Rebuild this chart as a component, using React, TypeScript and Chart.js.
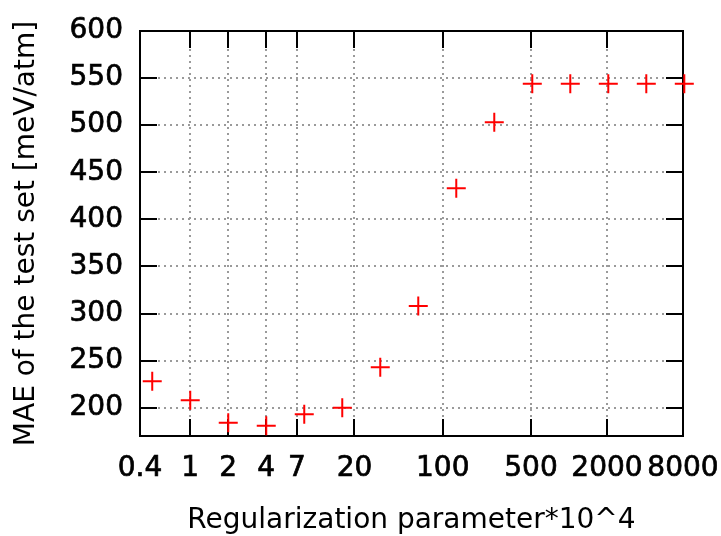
import React, { useEffect, useRef } from "react";
import { Chart, registerables } from "chart.js";

Chart.register(...registerables);

const regParams = [0.5, 1, 2, 4, 8, 16, 32, 64, 128, 256, 512, 1024, 2048, 4096, 8192];
const maeValues = [228, 208, 184, 181, 193, 200, 243, 308, 433, 503, 544, 544, 544, 544, 544];
const xTickValues = [0.4, 1, 2, 4, 7, 20, 100, 500, 2000, 8000];
const yTickValues = [200, 250, 300, 350, 400, 450, 500, 550, 600];

const xTitle = "Regularization parameter*10^4";
const yTitle = "MAE of the test set [meV/atm]";

const FONT = "'DejaVu Sans', Verdana, sans-serif";

const frameTicks = {
  id: "frameTicks",
  beforeDatasetsDraw(chart: any) {
    const { ctx, chartArea } = chart;
    const { left, right, top, bottom } = chartArea;
    const xs = chart.scales.x;
    const ys = chart.scales.y;
    const len = 17;
    ctx.save();
    ctx.strokeStyle = "#000";
    ctx.lineWidth = 2;
    ctx.beginPath();
    xs.ticks.forEach((t: any) => {
      const px = Math.round(xs.getPixelForValue(t.value));
      ctx.moveTo(px, bottom);
      ctx.lineTo(px, bottom - len);
      ctx.moveTo(px, top);
      ctx.lineTo(px, top + len);
    });
    ys.ticks.forEach((t: any) => {
      const py = Math.round(ys.getPixelForValue(t.value));
      ctx.moveTo(left, py);
      ctx.lineTo(left + len, py);
      ctx.moveTo(right, py);
      ctx.lineTo(right - len, py);
    });
    ctx.stroke();
    ctx.strokeRect(left, top, right - left, bottom - top);
    ctx.restore();
  },
};

export default function App() {
  const ref = useRef<HTMLCanvasElement | null>(null);
  useEffect(() => {
    if (!ref.current) return;
    const chart = new Chart(ref.current, {
      type: "scatter",
      data: {
        datasets: [
          {
            data: regParams.map((x, i) => ({ x, y: maeValues[i] })),
            pointStyle: "cross",
            pointRadius: 9.5,
            pointBorderWidth: 2,
            borderColor: "#ff0000",
            backgroundColor: "#ff0000",
            clip: false as any,
          },
        ],
      },
      options: {
        responsive: false,
        animation: false,
        devicePixelRatio: 1,
        layout: { padding: { top: 29, right: 38, left: 0, bottom: 0 } },
        plugins: { legend: { display: false }, tooltip: { enabled: false } },
        scales: {
          x: {
            type: "logarithmic",
            min: 0.4,
            max: 8000,
            afterBuildTicks: (s: any) => {
              s.ticks = xTickValues.map((v) => ({ value: v }));
            },
            afterFit: (s: any) => {
              s.height = 100;
            },
            ticks: {
              autoSkip: false,
              maxRotation: 0,
              padding: 0,
              color: "#000",
              textStrokeColor: "#000",
              textStrokeWidth: 0.7,
              font: { family: FONT, size: 28, lineHeight: 1 },
              callback: (v: any) => String(v),
            },
            grid: {
              color: "#9a9a9a",
              lineWidth: 2,
              drawTicks: true,
              tickLength: 19,
              tickColor: "rgba(0,0,0,0)",
            },
            border: { display: false, dash: [2, 4] },
            title: {
              display: true,
              text: xTitle,
              color: "#000",
              font: { family: FONT, size: 28, lineHeight: 1 },
              padding: { top: 0, bottom: 1 },
            },
          },
          y: {
            type: "linear",
            min: 170,
            max: 600,
            afterBuildTicks: (s: any) => {
              s.ticks = yTickValues.map((v) => ({ value: v }));
            },
            afterFit: (s: any) => {
              s.width = 140;
            },
            ticks: {
              padding: 17,
              color: "#000",
              textStrokeColor: "#000",
              textStrokeWidth: 0.7,
              font: { family: FONT, size: 28, lineHeight: 1 },
            },
            grid: { color: "#9a9a9a", lineWidth: 2, drawTicks: false },
            border: { display: false, dash: [2, 4] },
            title: {
              display: true,
              text: yTitle,
              color: "#000",
              font: { family: FONT, size: 28, lineHeight: 1 },
              padding: { top: 13, bottom: 0 },
            },
          },
        },
      },
      plugins: [frameTicks],
    });
    return () => chart.destroy();
  }, []);
  return (
    <div style={{ position: "fixed", left: 0, top: 0, width: 721, height: 536, background: "#fff" }}>
      <canvas ref={ref} width={721} height={536} />
    </div>
  );
}
